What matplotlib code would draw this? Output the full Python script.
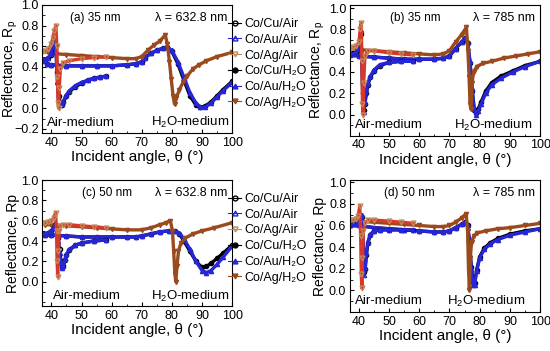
import matplotlib.pyplot as plt
from matplotlib.lines import Line2D
from matplotlib.ticker import MultipleLocator

plt.rcParams['font.family'] = ['Liberation Sans', 'DejaVu Sans']
plt.rcParams['mathtext.fontset'] = 'custom'
plt.rcParams['mathtext.rm'] = 'Liberation Sans'
plt.rcParams['mathtext.it'] = 'Liberation Sans:italic'

# ---- (a) 35 nm, 632.8 nm ----
a_air_x = [37, 38, 39, 40, 40.5, 41, 41.5, 42, 42.5, 43, 43.5, 44, 45, 46, 48, 50, 52, 54, 56, 58]
a_cu_air = [0.46, 0.47, 0.49, 0.52, 0.58, 0.66, 0.6, 0.35, 0.12, 0.04, 0.03, 0.06, 0.12, 0.16, 0.21, 0.24, 0.27, 0.29, 0.3, 0.31]
a_au_air = [0.46, 0.47, 0.49, 0.53, 0.6, 0.69, 0.55, 0.25, 0.06, 0.03, 0.04, 0.07, 0.13, 0.17, 0.22, 0.25, 0.27, 0.29, 0.3, 0.31]
a_agair_x = [37, 38, 39, 40, 40.5, 41, 41.5, 41.8, 42, 42.2, 42.4, 42.6, 43, 44, 46, 50, 54, 58]
a_ag_air = [0.54, 0.55, 0.57, 0.62, 0.68, 0.75, 0.8, 0.6, 0.3, 0.05, 0.0, 0.2, 0.38, 0.44, 0.46, 0.48, 0.49, 0.5]
a_h2o_x = [38.5, 40, 45, 50, 55, 60, 65, 68, 70, 71, 73, 75, 77, 78.5, 80, 82, 84, 86, 88, 89.5, 91, 93, 95, 97, 100]
a_cu_h2o = [0.43, 0.42, 0.41, 0.41, 0.41, 0.41, 0.42, 0.43, 0.45, 0.49, 0.53, 0.56, 0.58, 0.59, 0.55, 0.43, 0.27, 0.12, 0.03, 0.01, 0.02, 0.06, 0.12, 0.18, 0.26]
a_au_h2o = [0.43, 0.42, 0.41, 0.41, 0.41, 0.41, 0.42, 0.43, 0.45, 0.49, 0.53, 0.56, 0.58, 0.59, 0.56, 0.45, 0.3, 0.15, 0.05, 0.01, 0.01, 0.05, 0.11, 0.17, 0.25]
a_agh2o_x = [37, 40, 45, 50, 55, 60, 65, 68, 70, 72, 74, 76, 77.8, 78.5, 79.2, 79.8, 80.4, 80.9, 81.5, 82.5, 83.7, 85, 87, 89, 91.5, 95, 100]
a_ag_h2o = [0.55, 0.53, 0.52, 0.51, 0.5, 0.49, 0.48, 0.48, 0.5, 0.56, 0.61, 0.65, 0.71, 0.62, 0.45, 0.28, 0.12, 0.04, 0.1, 0.18, 0.25, 0.31, 0.38, 0.42, 0.46, 0.5, 0.54]

# ---- (b) 35 nm, 785 nm ----
b_air_x = [37, 38, 39, 40, 40.6, 41.0, 41.3, 41.6, 42, 42.5, 43, 43.8, 45, 47, 50, 54, 58]
b_cu_air = [0.57, 0.57, 0.58, 0.61, 0.76, 0.55, 0.2, 0.04, 0.1, 0.2, 0.28, 0.35, 0.41, 0.46, 0.49, 0.5, 0.5]
b_au_air = [0.57, 0.57, 0.58, 0.62, 0.79, 0.5, 0.15, 0.02, 0.12, 0.22, 0.3, 0.36, 0.42, 0.47, 0.49, 0.5, 0.5]
b_agair_x = [37, 38, 39, 40, 40.5, 40.8, 41.0, 41.2, 41.4, 41.6, 42, 43, 45, 50, 54, 58]
b_ag_air = [0.62, 0.63, 0.64, 0.68, 0.8, 0.86, 0.5, 0.1, 0.0, 0.3, 0.55, 0.6, 0.6, 0.58, 0.57, 0.56]
b_h2o_x = [37, 40, 45, 50, 55, 60, 65, 68, 70, 72, 74, 75.2, 76, 76.8, 77.5, 78.2, 78.8, 79.5, 80.5, 82, 84, 87, 91, 95, 100]
b_cu_h2o = [0.56, 0.55, 0.54, 0.53, 0.52, 0.52, 0.52, 0.53, 0.55, 0.62, 0.68, 0.72, 0.67, 0.48, 0.22, 0.04, 0.01, 0.05, 0.12, 0.22, 0.3, 0.36, 0.41, 0.46, 0.5]
b_au_h2o = [0.56, 0.55, 0.54, 0.53, 0.52, 0.52, 0.52, 0.53, 0.55, 0.62, 0.68, 0.72, 0.68, 0.5, 0.25, 0.05, 0.0, 0.03, 0.1, 0.2, 0.28, 0.34, 0.4, 0.45, 0.5]
b_agh2o_x = [37, 40, 45, 50, 55, 60, 65, 68, 70, 72, 74, 75.6, 76.1, 76.5, 76.8, 77.1, 77.5, 78, 79, 81, 84, 88, 92, 96, 100]
b_ag_h2o = [0.62, 0.61, 0.6, 0.59, 0.58, 0.57, 0.56, 0.57, 0.6, 0.68, 0.75, 0.82, 0.6, 0.35, 0.1, 0.05, 0.3, 0.4, 0.45, 0.48, 0.5, 0.53, 0.55, 0.57, 0.59]

# ---- (c) 50 nm, 632.8 nm ----
c_air_x = [37, 38, 39, 40, 40.8, 41.3, 41.7, 42.2, 42.7, 43.2, 43.6, 44, 44.5, 45, 46, 48, 50, 54, 58]
c_cu_air = [0.47, 0.47, 0.48, 0.5, 0.53, 0.56, 0.52, 0.43, 0.32, 0.2, 0.14, 0.15, 0.21, 0.26, 0.31, 0.36, 0.38, 0.4, 0.41]
c_au_air = [0.47, 0.47, 0.48, 0.5, 0.53, 0.58, 0.5, 0.4, 0.28, 0.18, 0.13, 0.15, 0.22, 0.27, 0.32, 0.36, 0.38, 0.4, 0.41]
c_agair_x = [37, 38, 39, 40, 40.8, 41.4, 41.7, 41.9, 42.1, 42.3, 42.6, 43, 44, 46, 50, 54, 58]
c_ag_air = [0.58, 0.58, 0.59, 0.6, 0.63, 0.68, 0.5, 0.2, 0.05, 0.3, 0.5, 0.55, 0.56, 0.56, 0.55, 0.54, 0.53]
c_h2o_x = [38, 40, 45, 50, 55, 60, 65, 68, 70, 73, 76, 79, 81, 82.5, 84, 86, 88, 90, 91.5, 93, 95, 97, 100]
c_cu_h2o = [0.46, 0.46, 0.45, 0.44, 0.44, 0.44, 0.44, 0.44, 0.45, 0.47, 0.49, 0.5, 0.5, 0.47, 0.4, 0.3, 0.2, 0.14, 0.15, 0.18, 0.23, 0.28, 0.36]
c_au_h2o = [0.46, 0.46, 0.45, 0.44, 0.44, 0.44, 0.44, 0.44, 0.45, 0.47, 0.49, 0.5, 0.5, 0.48, 0.42, 0.32, 0.2, 0.11, 0.09, 0.11, 0.17, 0.24, 0.35]
c_agh2o_x = [38, 40, 45, 50, 55, 60, 65, 70, 73, 76, 78, 79.5, 80.2, 80.6, 81, 81.3, 81.7, 82.2, 83, 84.5, 87, 90, 94, 100]
c_ag_h2o = [0.56, 0.56, 0.55, 0.54, 0.53, 0.52, 0.51, 0.51, 0.53, 0.56, 0.58, 0.6, 0.5, 0.3, 0.08, 0.0, 0.15, 0.3, 0.38, 0.43, 0.47, 0.5, 0.53, 0.58]

# ---- (d) 50 nm, 785 nm ----
d_air_x = [37, 38, 39, 40, 40.5, 40.9, 41.2, 41.5, 41.8, 42.1, 42.5, 43, 43.8, 45, 47, 50, 54, 58]
d_cu_air = [0.6, 0.61, 0.61, 0.63, 0.65, 0.68, 0.58, 0.35, 0.17, 0.2, 0.33, 0.44, 0.51, 0.55, 0.56, 0.56, 0.56, 0.56]
d_au_air = [0.6, 0.61, 0.61, 0.63, 0.66, 0.7, 0.55, 0.3, 0.14, 0.22, 0.35, 0.45, 0.52, 0.55, 0.56, 0.56, 0.56, 0.56]
d_agair_x = [37, 38, 39, 39.8, 40.3, 40.6, 40.8, 41.0, 41.2, 41.5, 42, 43, 45, 50, 54, 58]
d_ag_air = [0.65, 0.65, 0.66, 0.69, 0.78, 0.5, 0.15, 0.02, 0.3, 0.55, 0.62, 0.65, 0.65, 0.64, 0.63, 0.62]
d_h2o_x = [37, 40, 45, 50, 55, 60, 65, 68, 70, 72, 74, 75.3, 76, 76.6, 77.2, 77.8, 78.3, 79, 80, 81.5, 83.5, 86, 90, 95, 100]
d_cu_h2o = [0.6, 0.6, 0.58, 0.57, 0.56, 0.55, 0.54, 0.54, 0.55, 0.58, 0.61, 0.63, 0.6, 0.46, 0.22, 0.08, 0.07, 0.19, 0.31, 0.39, 0.44, 0.48, 0.52, 0.55, 0.57]
d_au_h2o = [0.6, 0.6, 0.58, 0.57, 0.56, 0.55, 0.54, 0.54, 0.55, 0.58, 0.61, 0.63, 0.6, 0.45, 0.2, 0.05, 0.05, 0.18, 0.3, 0.38, 0.43, 0.47, 0.51, 0.54, 0.57]
d_agh2o_x = [37, 40, 45, 50, 55, 60, 65, 68, 70, 72, 74, 75.5, 76.0, 76.3, 76.6, 76.9, 77.3, 78, 79, 82, 86, 90, 95, 100]
d_ag_h2o = [0.65, 0.64, 0.63, 0.62, 0.61, 0.6, 0.59, 0.59, 0.6, 0.63, 0.67, 0.71, 0.55, 0.2, 0.0, 0.3, 0.45, 0.5, 0.53, 0.55, 0.57, 0.58, 0.6, 0.62]

labels = ['Co/Cu/Air', 'Co/Au/Air', 'Co/Ag/Air', 'Co/Cu/H\u2082O', 'Co/Au/H\u2082O', 'Co/Ag/H\u2082O']

BLUE = '#2626d8'
BROWN = '#9a4a1c'
TAN = '#c08a5a'
RED = '#d8382a'


def draw_panel(ax, air_x, cu_air, au_air, agair_x, ag_air,
               h2o_x, cu_h2o, au_h2o, agh2o_x, ag_h2o):
    lw, ms = 2.4, 3
    ax.plot(h2o_x, cu_h2o, '-o', color='black', lw=lw, ms=ms)
    ax.plot(h2o_x, au_h2o, '-^', color=BLUE, lw=lw, ms=ms)
    ax.plot(agh2o_x, ag_h2o, '-v', color=BROWN, lw=lw, ms=ms)
    ax.plot(air_x, cu_air, '-o', color='black', lw=lw, ms=ms, mfc='none')
    ax.plot(air_x, au_air, '-^', color=BLUE, lw=lw, ms=ms, mfc='none')
    ax.plot(agair_x, ag_air, '-', color=RED, lw=lw)
    ax.plot(agair_x, ag_air, 'v', ms=3.5, mec=TAN, mfc='none', mew=1)


fig = plt.figure(figsize=(5.5, 3.51), dpi=100)
ax_a = fig.add_axes([0.077, 0.621, 0.345, 0.365])
ax_b = fig.add_axes([0.636, 0.613, 0.346, 0.373])
ax_c = fig.add_axes([0.077, 0.128, 0.345, 0.359])
ax_d = fig.add_axes([0.636, 0.111, 0.346, 0.376])

draw_panel(ax_a, a_air_x, a_cu_air, a_au_air, a_agair_x, a_ag_air,
           a_h2o_x, a_cu_h2o, a_au_h2o, a_agh2o_x, a_ag_h2o)
draw_panel(ax_b, b_air_x, b_cu_air, b_au_air, b_agair_x, b_ag_air,
           b_h2o_x, b_cu_h2o, b_au_h2o, b_agh2o_x, b_ag_h2o)
draw_panel(ax_c, c_air_x, c_cu_air, c_au_air, c_agair_x, c_ag_air,
           c_h2o_x, c_cu_h2o, c_au_h2o, c_agh2o_x, c_ag_h2o)
draw_panel(ax_d, d_air_x, d_cu_air, d_au_air, d_agair_x, d_ag_air,
           d_h2o_x, d_cu_h2o, d_au_h2o, d_agh2o_x, d_ag_h2o)

ylims = {ax_a: (-0.24, 1.0), ax_b: (-0.2, 1.03), ax_c: (-0.24, 1.0), ax_d: (-0.2, 1.02)}
for ax in (ax_a, ax_b, ax_c, ax_d):
    ax.set_xlim(37, 100)
    ax.set_ylim(*ylims[ax])
    ax.set_xticks(range(40, 101, 10))
    ax.xaxis.set_minor_locator(MultipleLocator(5))
    ax.yaxis.set_minor_locator(MultipleLocator(0.1))
    ax.tick_params(direction='in', labelsize=9, length=3, width=0.8, pad=2.5)
    ax.tick_params(which='minor', direction='in', length=1.8, width=0.6)
    ax.set_xlabel('Incident angle, \u03b8 (\u00b0)', fontsize=11, labelpad=1)
    for s in ax.spines.values():
        s.set_linewidth(0.8)

ax_a.set_yticks([-0.2, 0.0, 0.2, 0.4, 0.6, 0.8, 1.0])
for ax in (ax_b, ax_c, ax_d):
    ax.set_yticks([0.0, 0.2, 0.4, 0.6, 0.8, 1.0])

ax_a.set_ylabel('Reflectance, R$_\\mathregular{p}$', fontsize=10)
ax_b.set_ylabel('Reflectance, R$_\\mathregular{p}$', fontsize=10)
ax_c.set_ylabel('Reflectance, Rp', fontsize=10)
ax_d.set_ylabel('Reflectance, Rp', fontsize=10)
for ax in (ax_a, ax_b, ax_c, ax_d):
    ax.yaxis.set_label_coords(-0.12, 0.5)

notes = [
    (ax_a, '(a) 35 nm', '\u03bb = 632.8 nm', 0.146, 0.025, 0.41),
    (ax_b, '(b) 35 nm', '\u03bb = 785 nm', 0.21, 0.026, 0.55),
    (ax_c, '(c) 50 nm', '\u03bb = 632.8 nm', 0.21, 0.057, 0.41),
    (ax_d, '(d) 50 nm', '\u03bb = 785 nm', 0.18, 0.026, 0.51),
]
for ax, tag, lam, tx, airx, h2ox in notes:
    ax.text(tx, 0.9, tag, transform=ax.transAxes, fontsize=8.5, va='center')
    ax.text(0.975, 0.9, lam, transform=ax.transAxes, fontsize=9, va='center', ha='right')
    ax.text(airx, 0.08, 'Air-medium', transform=ax.transAxes, fontsize=9.5, va='center')
    ax.text(0.985 if ax in (ax_a, ax_c) else h2ox, 0.08, 'H$_2$O-medium',
            transform=ax.transAxes, fontsize=9.5, va='center',
            ha='right' if ax in (ax_a, ax_c) else 'left')

handles = [
    Line2D([], [], color='black', marker='o', mfc='none', lw=0.8, ms=3.5),
    Line2D([], [], color=BLUE, marker='^', mfc='none', lw=0.8, ms=3.5),
    Line2D([], [], color=TAN, marker='v', mfc='none', lw=0.8, ms=3.5),
    Line2D([], [], color='black', marker='o', lw=0.8, ms=3.5),
    Line2D([], [], color=BLUE, marker='^', lw=0.8, ms=3.5),
    Line2D([], [], color=BROWN, marker='v', lw=0.8, ms=3.5),
]
for top in (1 - 18 / 351, 1 - 193 / 351):
    fig.legend(handles, labels, loc='upper left', bbox_to_anchor=(0.415, top),
               frameon=False, fontsize=9, handlelength=1.0, handletextpad=0.3,
               labelspacing=0.3, borderaxespad=0, borderpad=0)

fig.savefig('out.png', dpi=100)
